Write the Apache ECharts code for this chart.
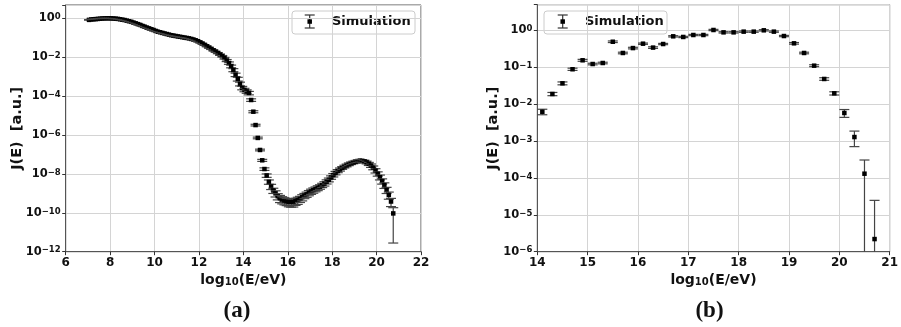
<!DOCTYPE html>
<html>
<head>
<meta charset="utf-8">
<script src="https://cdn.jsdelivr.net/npm/echarts@6/dist/echarts.min.js"></script>
<style>
html, body { margin: 0; padding: 0; background: #fff; }
#chart { width: 901px; height: 327px; }
</style>
</head>
<body>
<div id="chart"></div>
<script>
// panel (a): whole spectrum, bins of 0.1 in log10(E/eV)
const energyA = [
  7.05, 7.15, 7.25, 7.35, 7.45, 7.55, 7.65, 7.75, 7.85, 7.95,
  8.05, 8.15, 8.25, 8.35, 8.45, 8.55, 8.65, 8.75, 8.85, 8.95,
  9.05, 9.15, 9.25, 9.35, 9.45, 9.55, 9.65, 9.75, 9.85, 9.95,
  10.05, 10.15, 10.25, 10.35, 10.45, 10.55, 10.65, 10.75, 10.85, 10.95,
  11.05, 11.15, 11.25, 11.35, 11.45, 11.55, 11.65, 11.75, 11.85, 11.95,
  12.05, 12.15, 12.25, 12.35, 12.45, 12.55, 12.65, 12.75, 12.85, 12.95,
  13.05, 13.15, 13.25, 13.35, 13.45, 13.55, 13.65, 13.75, 13.85, 13.95,
  14.05, 14.15, 14.25, 14.35, 14.45, 14.55, 14.65, 14.75, 14.85, 14.95,
  15.05, 15.15, 15.25, 15.35, 15.45, 15.55, 15.65, 15.75, 15.85, 15.95,
  16.05, 16.15, 16.25, 16.35, 16.45, 16.55, 16.65, 16.75, 16.85, 16.95,
  17.05, 17.15, 17.25, 17.35, 17.45, 17.55, 17.65, 17.75, 17.85, 17.95,
  18.05, 18.15, 18.25, 18.35, 18.45, 18.55, 18.65, 18.75, 18.85, 18.95,
  19.05, 19.15, 19.25, 19.35, 19.45, 19.55, 19.65, 19.75, 19.85, 19.95,
  20.05, 20.15, 20.25, 20.35, 20.45, 20.55, 20.65, 20.75
];
const fluxA = [
  0.83, 0.87, 0.89, 0.91, 0.93, 0.955, 0.977, 0.99, 1.0, 1.0,
  0.995, 0.977, 0.955, 0.933, 0.891, 0.851, 0.813, 0.759, 0.708, 0.661,
  0.603, 0.550, 0.501, 0.457, 0.407, 0.372, 0.331, 0.302, 0.275, 0.251,
  0.224, 0.204, 0.191, 0.178, 0.166, 0.155, 0.145, 0.135, 0.129, 0.123,
  0.117, 0.112, 0.107, 0.102, 0.0977, 0.0933, 0.0871, 0.0813, 0.0741, 0.0661,
  0.0575, 0.0501, 0.0427, 0.0363, 0.0309, 0.0263, 0.0224, 0.0191, 0.0162, 0.0135,
  0.0112, 8.91e-3, 6.76e-3, 5.01e-3, 3.39e-3, 2.19e-3, 1.26e-3, 7.59e-4, 4.27e-4, 2.63e-4,
  2.09e-4, 1.74e-4, 1.45e-4, 6.3e-5, 1.58e-5, 3.24e-6, 7.08e-7, 1.70e-7, 5.0e-8, 1.78e-8,
  8.3e-9, 3.9e-9, 2.24e-9, 1.41e-9, 1.0e-9, 7.1e-10, 5.6e-10, 4.8e-10, 4.27e-10, 3.9e-10,
  3.7e-10, 3.55e-10, 3.6e-10, 4.0e-10, 4.5e-10, 5.2e-10, 6.3e-10, 7.6e-10, 8.9e-10, 1.07e-9,
  1.26e-9, 1.45e-9, 1.66e-9, 1.91e-9, 2.19e-9, 2.63e-9, 3.16e-9, 3.98e-9, 5.0e-9, 6.6e-9,
  8.7e-9, 1.12e-8, 1.41e-8, 1.70e-8, 2.04e-8, 2.40e-8, 2.75e-8, 3.16e-8, 3.55e-8, 3.9e-8,
  4.27e-8, 4.57e-8, 4.79e-8, 4.68e-8, 4.37e-8, 3.9e-8, 3.31e-8, 2.69e-8, 2.09e-8, 1.48e-8,
  1.02e-8, 6.8e-9, 4.27e-9, 2.63e-9, 1.51e-9, 8.3e-10, 3.8e-10, 9.3e-11
];
// relative error (sigma / J)
const relErrA = [
  0.03, 0.03, 0.03, 0.03, 0.03, 0.03, 0.03, 0.03, 0.03, 0.03,
  0.03, 0.03, 0.03, 0.03, 0.03, 0.03, 0.03, 0.03, 0.03, 0.03,
  0.03, 0.03, 0.03, 0.03, 0.03, 0.03, 0.03, 0.03, 0.03, 0.03,
  0.03, 0.03, 0.03, 0.03, 0.03, 0.03, 0.03, 0.03, 0.03, 0.03,
  0.03, 0.03, 0.03, 0.03, 0.03, 0.03, 0.03, 0.03, 0.03, 0.03,
  0.03, 0.03, 0.04, 0.04, 0.05, 0.05, 0.06, 0.06, 0.07, 0.08,
  0.09, 0.1, 0.12, 0.14, 0.16, 0.18, 0.2, 0.22, 0.22, 0.2,
  0.2, 0.2, 0.2, 0.15, 0.12, 0.1, 0.1, 0.1, 0.12, 0.15,
  0.2, 0.25, 0.3, 0.3, 0.35, 0.35, 0.4, 0.4, 0.4, 0.4,
  0.45, 0.45, 0.45, 0.4, 0.4, 0.35, 0.35, 0.3, 0.3, 0.3,
  0.3, 0.3, 0.28, 0.28, 0.26, 0.25, 0.25, 0.24, 0.22, 0.2,
  0.2, 0.2, 0.18, 0.18, 0.16, 0.16, 0.16, 0.16, 0.15, 0.15,
  0.15, 0.15, 0.15, 0.15, 0.16, 0.16, 0.18, 0.2, 0.22, 0.25,
  0.25, 0.28, 0.3, 0.32, 0.35, 0.4, 0.45, 0.97
];

// panel (b): zoom on the high energy part, bins of 0.2
const energyB = [
  14.1, 14.3, 14.5, 14.7, 14.9, 15.1, 15.3, 15.5, 15.7, 15.9,
  16.1, 16.3, 16.5, 16.7, 16.9, 17.1, 17.3, 17.5, 17.7, 17.9,
  18.1, 18.3, 18.5, 18.7, 18.9, 19.1, 19.3, 19.5, 19.7, 19.9,
  20.1, 20.3, 20.5, 20.7
];
const fluxB = [
  6.2e-3, 0.0188, 0.0366, 0.088, 0.154, 0.122, 0.13, 0.49, 0.243, 0.33,
  0.434, 0.34, 0.425, 0.687, 0.66, 0.746, 0.746, 1.02, 0.88, 0.88,
  0.92, 0.92, 1.0, 0.92, 0.70, 0.444, 0.243, 0.11, 0.048, 0.0196,
  5.75e-3, 1.28e-3, 1.3e-4, 2.2e-6
];
const relErrB = [
  0.17, 0.1, 0.09, 0.07, 0.06, 0.05, 0.05, 0.05, 0.05, 0.05,
  0.04, 0.05, 0.04, 0.04, 0.04, 0.04, 0.04, 0.04, 0.04, 0.04,
  0.04, 0.04, 0.04, 0.04, 0.04, 0.05, 0.05, 0.06, 0.08, 0.1,
  0.24, 0.45, 1.35, 10.2
];

const FONT = 'DejaVu Sans';
const INK = '#111';

function buildRows(energy, flux, relErr) {
  return energy.map(function (e, i) {
    const j = flux[i], s = j * relErr[i];
    const lowOk = j - s > 0;
    return [e, Math.log10(j), Math.log10(j + s), lowOk ? Math.log10(j - s) : -99, lowOk ? 1 : 0];
  });
}

function errorBarItem(params, api) {
  const cs = params.coordSys;
  const x = api.value(0);
  const p = api.coord([x, api.value(1)]);
  const hi = api.coord([x, api.value(2)]);
  const hasLow = api.value(4) === 1;
  const lo = hasLow ? api.coord([x, api.value(3)]) : [p[0], cs.y + cs.height];
  const cap = 5, m = 4.5;
  const bar = { stroke: '#444', lineWidth: 1.2 };
  const children = [
    { type: 'line', shape: { x1: p[0], y1: hi[1], x2: p[0], y2: lo[1] }, style: bar },
    { type: 'line', shape: { x1: p[0] - cap, y1: hi[1], x2: p[0] + cap, y2: hi[1] }, style: bar }
  ];
  if (hasLow) {
    children.push({ type: 'line', shape: { x1: p[0] - cap, y1: lo[1], x2: p[0] + cap, y2: lo[1] }, style: bar });
  }
  children.push({ type: 'rect', shape: { x: p[0] - m / 2, y: p[1] - m / 2, width: m, height: m }, style: { fill: '#000' } });
  return { type: 'group', children: children };
}

function powerLabel(v) {
  if (Math.abs(v - Math.round(v)) > 1e-6) return '';
  const n = Math.round(v);
  return '{b|10}{e|' + (n < 0 ? '\u2212' + (-n) : n) + '}';
}

function xAxisFor(gridIndex, min, max, interval) {
  return {
    gridIndex: gridIndex, type: 'value', min: min, max: max, interval: interval,
    name: '{a|log}{s|10}{a|(E/eV)}', nameLocation: 'middle', nameGap: 22, nameMoveOverlap: false,
    nameTextStyle: {
      rich: {
        a: { fontFamily: FONT, fontSize: 14, fontWeight: 'bold', color: INK },
        s: { fontFamily: FONT, fontSize: 10, fontWeight: 'bold', color: INK, verticalAlign: 'bottom' }
      }
    },
    axisLine: { show: true, onZero: false, lineStyle: { color: '#555', width: 1 } },
    axisTick: { show: true, inside: false, length: 3.5, lineStyle: { color: '#333' } },
    axisLabel: { margin: 5, fontFamily: FONT, fontSize: 12, fontWeight: 'bold', color: INK },
    splitLine: { show: true, lineStyle: { color: '#d4d4d4', width: 1 } }
  };
}

function yAxisFor(gridIndex, min, max, interval, nameGap) {
  return {
    gridIndex: gridIndex, type: 'value', min: min, max: max, interval: interval,
    name: 'J(E)  [a.u.]', nameLocation: 'middle', nameGap: nameGap, nameMoveOverlap: false,
    nameTextStyle: { fontFamily: FONT, fontSize: 14.5, fontWeight: 'bold', color: INK },
    axisLine: { show: true, onZero: false, lineStyle: { color: '#555', width: 1 } },
    axisTick: { show: true, inside: false, length: 3.5, lineStyle: { color: '#333' } },
    axisLabel: {
      margin: 5, formatter: powerLabel,
      rich: {
        b: { fontFamily: FONT, fontSize: 11.5, fontWeight: 'bold', color: INK },
        e: { fontFamily: FONT, fontSize: 8.5, fontWeight: 'bold', color: INK, verticalAlign: 'top' }
      }
    },
    splitLine: { show: true, lineStyle: { color: '#d4d4d4', width: 1 } }
  };
}

function legendBox(x, iconX, textX) {
  const bar = { stroke: '#333', lineWidth: 1.2 };
  return {
    type: 'group', children: [
      { type: 'rect', shape: { x: x, y: 11, width: 123, height: 23, r: 3 },
        style: { fill: 'rgba(255,255,255,0.8)', stroke: '#ccc', lineWidth: 1 } },
      { type: 'line', shape: { x1: iconX, y1: 15, x2: iconX, y2: 28 }, style: bar },
      { type: 'line', shape: { x1: iconX - 5, y1: 15, x2: iconX + 5, y2: 15 }, style: bar },
      { type: 'line', shape: { x1: iconX - 5, y1: 28, x2: iconX + 5, y2: 28 }, style: bar },
      { type: 'rect', shape: { x: iconX - 2.25, y: 19.3, width: 4.5, height: 4.5 }, style: { fill: '#000' } },
      { type: 'text', x: textX, y: 22, style: { text: 'Simulation', fontFamily: FONT, fontSize: 13,
        fontWeight: 'bold', fill: INK, verticalAlign: 'middle' } }
    ]
  };
}

function caption(cx, label) {
  return { type: 'text', x: cx, y: 311, style: { text: label, fontFamily: 'Liberation Serif',
    fontSize: 23, fontWeight: 'bold', fill: INK, align: 'center', verticalAlign: 'middle' } };
}

const chart = echarts.init(document.getElementById('chart'));
chart.setOption({
  animation: false,
  backgroundColor: '#fff',
  grid: [
    { left: 65.7, top: 5, width: 355.3, height: 246.7, show: true, borderColor: '#555', borderWidth: 1 },
    { left: 537.3, top: 4.7, width: 356, height: 247, show: true, borderColor: '#555', borderWidth: 1 }
  ],
  xAxis: [xAxisFor(0, 6, 22, 2), xAxisFor(1, 14, 21, 1)],
  yAxis: [yAxisFor(0, -12, 0.684, 2, 41), yAxisFor(1, -6, 0.694, 1, 37)],
  series: [
    { name: 'Simulation', type: 'custom', xAxisIndex: 0, yAxisIndex: 0,
      renderItem: errorBarItem, encode: { x: 0, y: 1 }, data: buildRows(energyA, fluxA, relErrA) },
    { name: 'Simulation', type: 'custom', xAxisIndex: 1, yAxisIndex: 1,
      renderItem: errorBarItem, encode: { x: 0, y: 1 }, data: buildRows(energyB, fluxB, relErrB) }
  ],
  graphic: [
    legendBox(292, 309.7, 332),
    legendBox(544, 562.7, 585),
    caption(237, '(a)'),
    caption(709.5, '(b)')
  ]
});
</script>
</body>
</html>
